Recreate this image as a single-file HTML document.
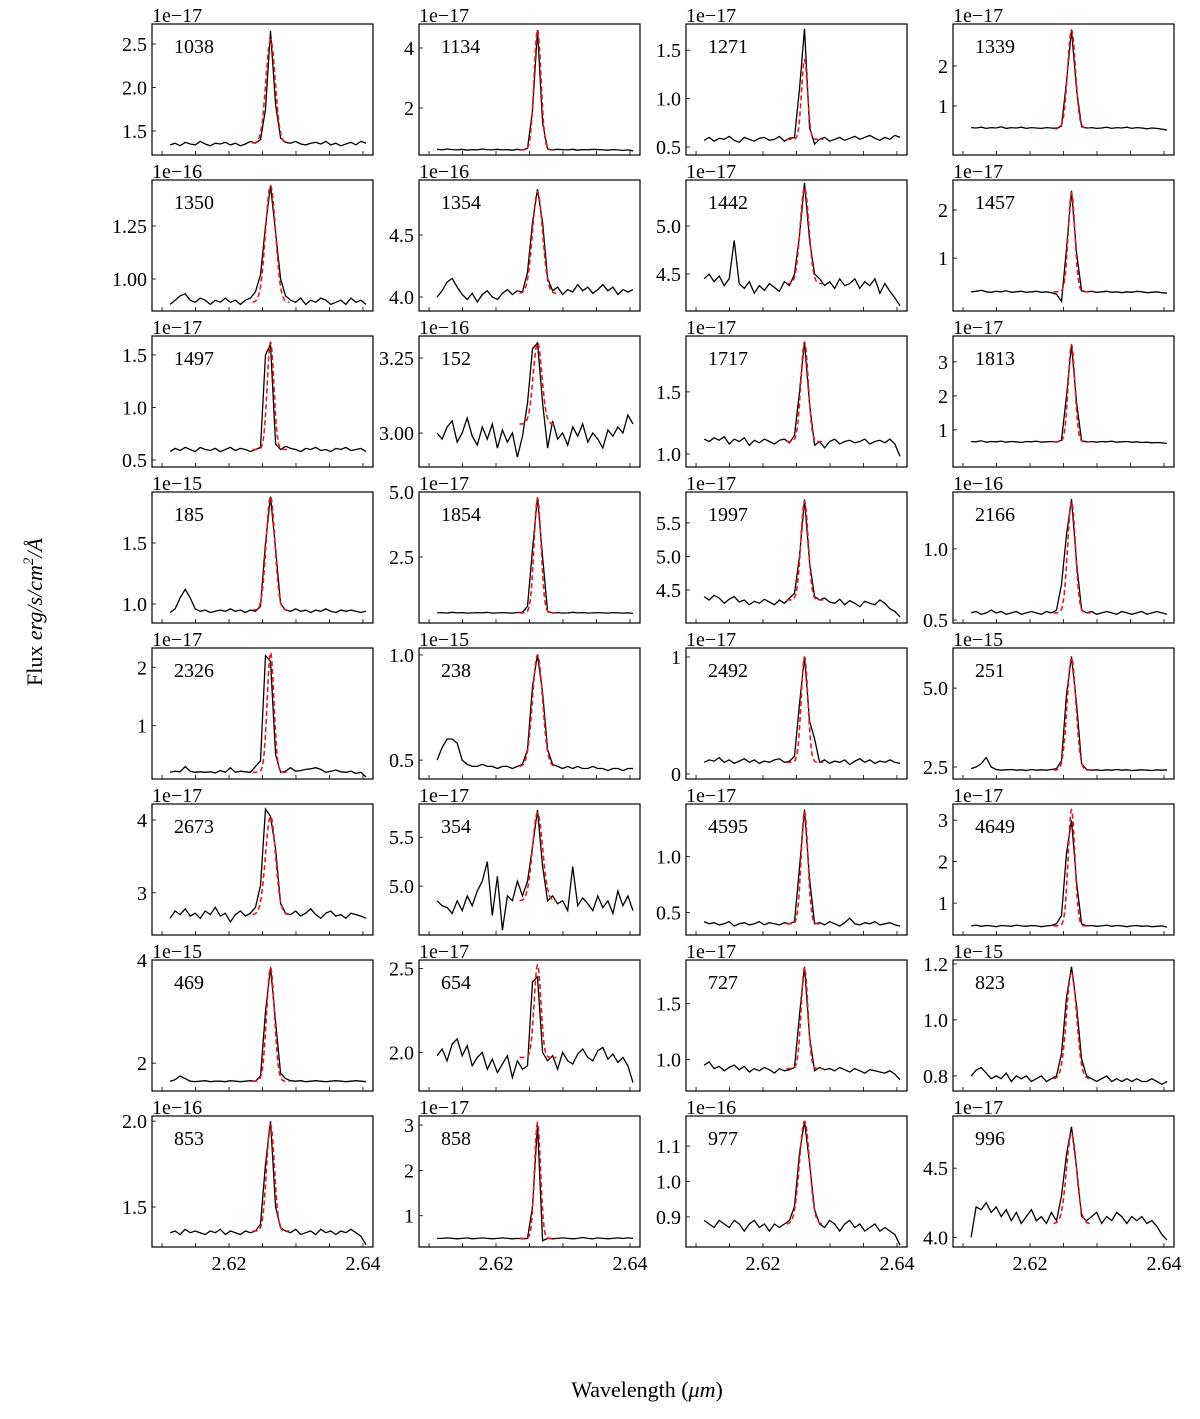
<!DOCTYPE html>
<html><head><meta charset="utf-8"><style>
body{margin:0;background:#fff;}
svg{display:block;font-family:"Liberation Serif",serif;}
</style></head><body>
<svg id="fig" width="1200" height="1419" viewBox="0 0 1200 1419" xmlns="http://www.w3.org/2000/svg">
<text transform="translate(42,612) rotate(-90)" text-anchor="middle" font-size="22">Flux <tspan font-style="italic">erg/s/cm</tspan><tspan font-size="15" dy="-9" font-style="italic">2</tspan><tspan dy="9" font-style="italic">/Å</tspan></text>
<text x="647" y="1397" text-anchor="middle" font-size="22">Wavelength (<tspan font-style="italic">μm</tspan>)</text>
</svg>
<script>
const labels=["1038","1134","1271","1339","1350","1354","1442","1457","1497","152","1717","1813","185","1854","1997","2166","2326","238","2492","251","2673","354","4595","4649","469","654","727","823","853","858","977","996"];
const exponents=[-17,-17,-17,-17,-16,-16,-17,-17,-17,-16,-17,-17,-15,-17,-17,-16,-17,-15,-17,-15,-17,-17,-17,-17,-15,-17,-17,-15,-16,-17,-16,-17];
const yLimits=[[1.224,2.73],[0.43,4.8],[0.418,1.77],[-0.225,3.05],[0.849,1.467],[3.887,4.944],[4.115,5.48],[-0.10,2.625],[0.433,1.68],[2.887,3.323],[0.895,1.95],[-0.09,3.76],[0.844,1.918],[-0.04,5.0],[4.007,5.96],[0.479,1.40],[0.086,2.33],[0.41,1.033],[-0.043,1.077],[2.12,6.27],[2.42,4.22],[4.5,5.84],[0.30,1.47],[0.23,3.39],[1.46,4.0],[1.77,2.55],[0.72,1.89],[0.746,1.214],[1.267,2.03],[0.31,3.2],[0.815,1.185],[3.93,4.877]];
const yTicks=[["1.5","2.0","2.5"],["2","4"],["0.5","1.0","1.5"],["1","2"],["1.00","1.25"],["4.0","4.5"],["4.5","5.0"],["1","2"],["0.5","1.0","1.5"],["3.00","3.25"],["1.0","1.5"],["1","2","3"],["1.0","1.5"],["2.5","5.0"],["4.5","5.0","5.5"],["0.5","1.0"],["1","2"],["0.5","1.0"],["0","1"],["2.5","5.0"],["3","4"],["5.0","5.5"],["0.5","1.0"],["1","2","3"],["2","4"],["2.0","2.5"],["1.0","1.5"],["0.8","1.0","1.2"],["1.5","2.0"],["1","2","3"],["0.9","1.0","1.1"],["4.0","4.5"]];
const xTicks=["2.62","2.64"];
const waveStart=2.6112, waveStep=0.00075;
const fitCenter=2.6262, fitLo=2.6235, fitHi=2.6290;
const fitCont=[1.36,0.6,0.58,0.45,0.89,4.03,4.4,0.3,0.6,3.03,1.1,0.65,0.95,0.35,4.35,0.55,0.2,0.47,0.1,2.4,2.7,4.85,0.4,0.45,1.65,1.97,0.92,0.79,1.36,0.5,0.88,4.1];
const fitPeak=[2.55,4.6,1.4,2.9,1.44,4.85,5.4,2.35,1.62,3.3,1.9,3.5,1.88,4.75,5.82,1.33,2.25,1.0,1.0,5.95,4.05,5.75,1.4,3.25,3.85,2.52,1.82,1.17,1.98,3.05,1.17,4.75];
const fitSigma=[0.0007,0.00052,0.00045,0.00058,0.00075,0.00075,0.00065,0.0005,0.0005,0.00065,0.00055,0.0005,0.00065,0.00052,0.00055,0.00058,0.0005,0.00075,0.0005,0.00065,0.00075,0.00075,0.0005,0.0005,0.00058,0.0005,0.0005,0.00075,0.00058,0.00045,0.00075,0.00075];
const fluxes=[
[1.34,1.36,1.33,1.37,1.35,1.34,1.38,1.35,1.33,1.36,1.35,1.37,1.34,1.36,1.33,1.35,1.38,1.36,1.40,1.75,2.65,1.80,1.42,1.37,1.36,1.38,1.35,1.34,1.36,1.37,1.35,1.38,1.34,1.36,1.33,1.35,1.37,1.34,1.38,1.36],
[0.62,0.6,0.63,0.61,0.6,0.62,0.59,0.61,0.6,0.63,0.61,0.6,0.62,0.6,0.61,0.59,0.62,0.6,0.65,1.9,4.6,1.5,0.63,0.6,0.62,0.61,0.6,0.62,0.59,0.61,0.6,0.62,0.61,0.6,0.59,0.61,0.6,0.58,0.6,0.57],
[0.57,0.6,0.56,0.59,0.58,0.61,0.57,0.55,0.6,0.58,0.56,0.59,0.6,0.57,0.58,0.61,0.56,0.59,0.6,1.1,1.72,0.7,0.53,0.58,0.6,0.56,0.58,0.6,0.57,0.59,0.61,0.58,0.6,0.62,0.59,0.57,0.6,0.58,0.62,0.6],
[0.46,0.45,0.47,0.44,0.46,0.45,0.48,0.44,0.46,0.45,0.47,0.44,0.46,0.45,0.44,0.46,0.45,0.43,0.5,1.6,2.9,1.4,0.48,0.45,0.46,0.44,0.45,0.47,0.44,0.46,0.45,0.47,0.44,0.46,0.45,0.43,0.45,0.44,0.42,0.4],
[0.88,0.9,0.92,0.93,0.9,0.89,0.91,0.9,0.88,0.9,0.89,0.91,0.89,0.9,0.88,0.9,0.91,0.94,1.02,1.25,1.44,1.22,1.0,0.92,0.9,0.89,0.91,0.88,0.9,0.89,0.91,0.9,0.88,0.89,0.9,0.88,0.91,0.89,0.9,0.88],
[4.0,4.05,4.12,4.15,4.08,4.02,3.98,4.03,3.96,4.02,4.05,4.0,3.98,4.03,4.06,4.02,4.05,4.04,4.2,4.6,4.87,4.6,4.15,4.05,4.08,4.02,4.06,4.04,4.1,4.05,4.08,4.03,4.06,4.1,4.05,4.08,4.02,4.06,4.04,4.06],
[4.45,4.5,4.42,4.48,4.38,4.45,4.85,4.4,4.35,4.42,4.3,4.38,4.33,4.4,4.36,4.32,4.42,4.38,4.5,4.9,5.45,4.85,4.5,4.45,4.38,4.42,4.35,4.45,4.38,4.4,4.45,4.35,4.42,4.38,4.45,4.3,4.4,4.32,4.25,4.17],
[0.3,0.31,0.33,0.3,0.29,0.31,0.3,0.32,0.29,0.3,0.31,0.29,0.3,0.31,0.29,0.3,0.28,0.25,0.1,1.2,2.4,1.1,0.32,0.3,0.31,0.29,0.3,0.31,0.29,0.3,0.28,0.3,0.29,0.31,0.3,0.28,0.29,0.3,0.28,0.27],
[0.58,0.61,0.59,0.62,0.6,0.58,0.62,0.6,0.59,0.61,0.58,0.6,0.62,0.59,0.61,0.6,0.58,0.6,0.62,1.5,1.6,0.65,0.6,0.63,0.61,0.6,0.58,0.61,0.6,0.62,0.59,0.6,0.58,0.61,0.6,0.62,0.59,0.6,0.61,0.58],
[3.0,2.98,3.02,3.04,2.97,3.0,3.05,2.99,2.96,3.02,2.98,3.03,2.95,3.01,2.97,3.0,2.92,2.99,3.1,3.28,3.3,3.1,2.95,3.04,2.98,3.0,2.96,3.02,2.99,3.03,2.97,3.0,2.98,2.95,3.01,2.99,3.02,3.0,3.06,3.03],
[1.12,1.1,1.13,1.11,1.14,1.08,1.12,1.1,1.13,1.07,1.11,1.09,1.12,1.1,1.08,1.11,1.12,1.09,1.15,1.5,1.9,1.4,1.07,1.1,1.05,1.1,1.12,1.08,1.1,1.11,1.09,1.1,1.12,1.08,1.1,1.11,1.09,1.12,1.08,0.98],
[0.66,0.65,0.68,0.64,0.66,0.65,0.67,0.64,0.66,0.65,0.63,0.66,0.65,0.67,0.64,0.65,0.66,0.64,0.7,2.0,3.5,1.8,0.68,0.65,0.66,0.64,0.66,0.65,0.67,0.64,0.65,0.66,0.64,0.65,0.63,0.64,0.62,0.63,0.62,0.6],
[0.93,0.96,1.05,1.12,1.05,0.96,0.94,0.95,0.93,0.94,0.95,0.94,0.96,0.94,0.95,0.93,0.95,0.94,0.98,1.5,1.88,1.45,1.0,0.95,0.94,0.96,0.94,0.95,0.93,0.95,0.94,0.96,0.94,0.93,0.95,0.94,0.95,0.94,0.93,0.94],
[0.35,0.36,0.34,0.37,0.35,0.36,0.34,0.35,0.36,0.35,0.37,0.34,0.35,0.36,0.35,0.34,0.36,0.38,0.6,2.8,4.8,2.5,0.4,0.35,0.36,0.34,0.35,0.37,0.35,0.36,0.34,0.35,0.36,0.35,0.34,0.36,0.35,0.34,0.35,0.33],
[4.4,4.35,4.42,4.38,4.3,4.36,4.4,4.32,4.35,4.28,4.33,4.3,4.36,4.32,4.28,4.35,4.3,4.38,4.45,5.0,5.85,4.9,4.4,4.35,4.38,4.32,4.3,4.36,4.28,4.34,4.3,4.25,4.33,4.3,4.28,4.35,4.3,4.22,4.18,4.1],
[0.55,0.56,0.54,0.55,0.57,0.55,0.56,0.54,0.55,0.56,0.54,0.55,0.56,0.55,0.54,0.56,0.55,0.57,0.75,1.1,1.35,0.9,0.57,0.55,0.56,0.54,0.55,0.56,0.55,0.54,0.56,0.55,0.54,0.55,0.56,0.54,0.55,0.56,0.55,0.54],
[0.2,0.22,0.21,0.3,0.22,0.2,0.21,0.2,0.21,0.19,0.23,0.2,0.28,0.2,0.22,0.21,0.2,0.3,0.4,2.2,2.1,0.5,0.2,0.22,0.28,0.22,0.23,0.25,0.26,0.28,0.25,0.2,0.22,0.24,0.21,0.2,0.22,0.18,0.2,0.12],
[0.5,0.56,0.6,0.6,0.58,0.5,0.48,0.47,0.47,0.48,0.47,0.47,0.46,0.47,0.47,0.46,0.47,0.48,0.55,0.85,1.0,0.82,0.55,0.48,0.47,0.46,0.47,0.46,0.47,0.46,0.46,0.47,0.46,0.46,0.45,0.46,0.46,0.45,0.46,0.46],
[0.1,0.12,0.11,0.14,0.1,0.12,0.09,0.11,0.13,0.1,0.12,0.09,0.11,0.1,0.12,0.13,0.1,0.11,0.15,0.6,1.0,0.45,0.3,0.1,0.12,0.09,0.11,0.1,0.12,0.08,0.11,0.13,0.1,0.12,0.09,0.11,0.1,0.12,0.1,0.09],
[2.45,2.5,2.6,2.8,2.5,2.42,2.4,2.41,2.42,2.4,2.41,2.39,2.42,2.4,2.41,2.4,2.42,2.45,2.7,4.8,6.0,4.5,2.6,2.42,2.4,2.41,2.39,2.41,2.4,2.42,2.4,2.41,2.39,2.4,2.41,2.4,2.39,2.41,2.4,2.41],
[2.65,2.75,2.7,2.78,2.68,2.72,2.65,2.75,2.7,2.8,2.68,2.72,2.6,2.7,2.75,2.68,2.72,2.8,3.1,4.15,4.05,3.6,2.85,2.72,2.7,2.75,2.68,2.72,2.78,2.7,2.65,2.72,2.75,2.68,2.7,2.65,2.72,2.7,2.68,2.65],
[4.85,4.8,4.78,4.72,4.85,4.75,4.9,4.8,4.95,5.05,5.25,4.7,5.1,4.55,4.9,4.85,5.05,4.9,5.05,5.4,5.78,5.2,4.85,4.9,4.82,4.85,4.75,5.2,4.8,4.88,4.82,4.75,4.9,4.78,4.85,4.72,4.95,4.8,4.9,4.75],
[0.42,0.4,0.41,0.39,0.4,0.42,0.38,0.4,0.41,0.39,0.4,0.42,0.39,0.41,0.4,0.39,0.41,0.4,0.42,0.9,1.42,0.8,0.4,0.41,0.39,0.42,0.4,0.38,0.41,0.45,0.4,0.39,0.41,0.4,0.42,0.39,0.4,0.41,0.39,0.38],
[0.45,0.47,0.44,0.46,0.45,0.43,0.46,0.45,0.44,0.47,0.45,0.44,0.46,0.45,0.43,0.45,0.46,0.5,0.7,2.2,3.0,1.5,0.5,0.45,0.46,0.44,0.45,0.47,0.44,0.46,0.45,0.43,0.45,0.46,0.44,0.45,0.43,0.44,0.45,0.42],
[1.65,1.68,1.75,1.7,1.65,1.64,1.65,1.66,1.64,1.65,1.65,1.64,1.66,1.65,1.64,1.65,1.66,1.65,1.75,3.0,3.85,2.8,1.8,1.7,1.66,1.65,1.66,1.64,1.65,1.66,1.65,1.64,1.65,1.66,1.65,1.64,1.65,1.66,1.65,1.64],
[1.98,2.02,1.95,2.05,2.08,1.98,2.04,1.92,1.97,2.0,1.9,1.96,1.88,1.93,1.98,1.85,1.95,1.9,1.92,2.42,2.45,2.0,1.95,1.98,1.9,2.0,1.95,1.93,1.99,2.02,1.97,1.95,2.01,2.03,1.96,1.99,1.94,1.97,1.92,1.82],
[0.95,0.98,0.92,0.94,0.9,0.93,0.95,0.91,0.94,0.89,0.92,0.9,0.93,0.91,0.88,0.92,0.9,0.91,0.93,1.4,1.83,1.2,0.9,0.93,0.91,0.92,0.9,0.93,0.91,0.89,0.92,0.9,0.88,0.91,0.9,0.89,0.88,0.9,0.87,0.82],
[0.8,0.82,0.83,0.81,0.79,0.8,0.79,0.81,0.78,0.8,0.79,0.8,0.78,0.79,0.8,0.78,0.79,0.8,0.88,1.08,1.19,1.05,0.86,0.8,0.79,0.78,0.79,0.8,0.78,0.79,0.78,0.79,0.78,0.79,0.78,0.78,0.79,0.78,0.77,0.78],
[1.35,1.36,1.34,1.37,1.35,1.36,1.35,1.34,1.36,1.35,1.37,1.34,1.36,1.35,1.34,1.36,1.35,1.36,1.4,1.75,2.0,1.5,1.38,1.36,1.35,1.37,1.34,1.35,1.36,1.34,1.37,1.35,1.36,1.34,1.36,1.35,1.37,1.35,1.33,1.28],
[0.5,0.5,0.51,0.5,0.49,0.5,0.51,0.49,0.5,0.51,0.5,0.49,0.5,0.51,0.5,0.49,0.5,0.49,0.5,1.2,3.0,0.45,0.5,0.49,0.5,0.51,0.5,0.49,0.5,0.52,0.5,0.49,0.51,0.5,0.49,0.5,0.51,0.5,0.51,0.5],
[0.89,0.88,0.87,0.89,0.88,0.87,0.89,0.88,0.86,0.88,0.89,0.87,0.88,0.86,0.88,0.87,0.88,0.89,0.93,1.08,1.17,1.05,0.92,0.88,0.87,0.89,0.88,0.86,0.88,0.89,0.87,0.88,0.86,0.87,0.88,0.86,0.87,0.86,0.85,0.82],
[4.0,4.22,4.2,4.25,4.18,4.22,4.15,4.2,4.12,4.18,4.1,4.15,4.2,4.12,4.15,4.1,4.18,4.12,4.3,4.6,4.8,4.5,4.15,4.12,4.15,4.18,4.1,4.15,4.12,4.18,4.15,4.1,4.15,4.12,4.15,4.1,4.12,4.08,4.02,3.98]
];

const NS="http://www.w3.org/2000/svg";
const svg=document.getElementById('fig');
const colX=[152,419,686,953], W=221, H=131, rowY0=24, rowStep=156;
const xMin=2.6085, xMax=2.6415;
function mk(tag,attrs,parent){const e=document.createElementNS(NS,tag);for(const k in attrs)e.setAttribute(k,attrs[k]);(parent||svg).appendChild(e);return e;}

labels.forEach((lab,p)=>{
  const col=p%4,row=Math.floor(p/4);
  const L=colX[col],T=rowY0+row*rowStep;
  const [y0,y1]=yLimits[p];
  const sx=v=>L+(v-xMin)/(xMax-xMin)*W;
  const sy=v=>T+H-(v-y0)/(y1-y0)*H;
  const g=mk('g',{});
  
  
  const clipId='c'+p;
  const cp=mk('clipPath',{id:clipId},g);
  mk('rect',{x:L,y:T,width:W,height:H},cp);
  for(let k=0;k<=6;k++){
    const v=2.61+k*0.005;
    const t=mk('line',{x1:sx(v),x2:sx(v),y1:T+H,y2:T+H-4,stroke:'#000','stroke-width':0.8},g);
    
    
  }
  yTicks[p].forEach(s=>{
    const v=parseFloat(s),y=sy(v);
    const t=mk('line',{x1:L,x2:L+4,y1:y,y2:y,stroke:'#000','stroke-width':0.8},g);
    
    
    const tx=mk('text',{x:L-5,y:y+7,'text-anchor':'end','font-size':20},g);
    tx.textContent=s;
    
    
  });
  const pts=fluxes[p].map((f,i)=>sx(waveStart+i*waveStep).toFixed(1)+','+sy(f).toFixed(1)).join(' ');
  const sp=mk('polyline',{points:pts,fill:'none',stroke:'#000','stroke-width':1.3,'clip-path':'url(#'+clipId+')'},g);
  
  
  const fp=[];
  for(let w=fitLo;w<=fitHi+1e-9;w+=0.00005){
    const f=fitCont[p]+(fitPeak[p]-fitCont[p])*Math.exp(-0.5*Math.pow((w-fitCenter)/fitSigma[p],2));
    fp.push(sx(w).toFixed(1)+','+sy(f).toFixed(1));
  }
  const fl=mk('polyline',{points:fp.join(' '),fill:'none',stroke:'#e8191b','stroke-width':1.6,'stroke-dasharray':'5,3','clip-path':'url(#'+clipId+')'},g);
  
  
  const fr=mk('rect',{x:L,y:T,width:W,height:H,fill:'none',stroke:'#000','stroke-width':1.2},g);
  
  
  const tl=mk('text',{x:L+22,y:T+29,'font-size':20},g);
  tl.textContent=lab;
  
  
  const ot=mk('text',{x:L,y:T-2,'font-size':20},g);
  ot.textContent='1e\u2212'+(-exponents[p]);
  
  
  if(row===7){
    xTicks.forEach(s=>{
      const xt=mk('text',{x:sx(parseFloat(s)),y:T+H+23,'text-anchor':'middle','font-size':20},g);
      xt.textContent=s;
      
      
    });
  }
});
</script>
</body></html>
